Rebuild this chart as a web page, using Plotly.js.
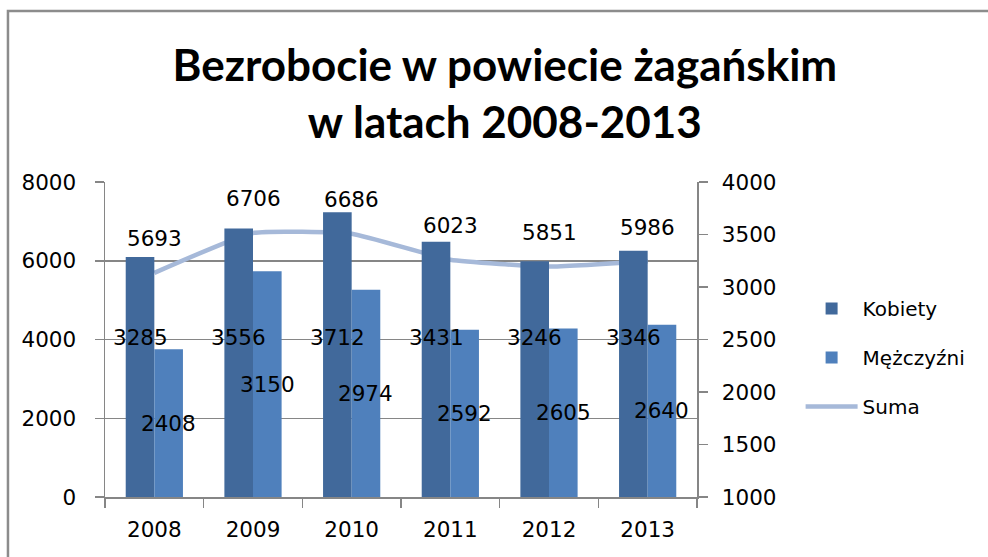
<!DOCTYPE html>
<html>
<head>
<meta charset="utf-8">
<script src="https://cdn.plot.ly/plotly-3.0.1.min.js"></script>
<style>html,body{margin:0;padding:0;background:#fff;}#chart{width:988px;height:557px;}</style>
</head>
<body>
<div id="chart"></div>
<script>
const years = ['2008', '2009', '2010', '2011', '2012', '2013'];
const kobiety = [3285, 3556, 3712, 3431, 3246, 3346];
const mezczyzni = [2408, 3150, 2974, 2592, 2605, 2640];
const suma = [5693, 6706, 6686, 6023, 5851, 5986];
const leftTicks = [0, 2000, 4000, 6000, 8000];
const rightTicks = [1000, 1500, 2000, 2500, 3000, 3500, 4000];

const numFont = {family: 'DejaVu Sans, Verdana, sans-serif', size: 21.5, color: '#000'};
const axisGray = '#868686';

const traces = [
  {type: 'bar', name: 'Kobiety', x: years, y: kobiety, yaxis: 'y2',
   marker: {color: '#41699B'}, legendgroup: 'a'},
  {type: 'bar', name: 'Mężczyźni', x: years, y: mezczyzni, yaxis: 'y2',
   marker: {color: '#4F80BC'}, legendgroup: 'b'},
  {type: 'scatter', mode: 'lines', name: 'Suma', x: years, y: suma, yaxis: 'y',
   line: {color: '#A6B9D9', width: 4.5, shape: 'spline', smoothing: 0.4}, legendgroup: 'c'}
];

const barHalf = 14.3;
const annotations = [];
years.forEach((yr, i) => {
  // category index i positions the label on the category axis
  annotations.push({x: i, y: suma[i], xref: 'x', yref: 'y', text: String(suma[i]),
    showarrow: false, yshift: 34, font: numFont});
  annotations.push({x: i, y: (1000 + mezczyzni[i]) / 2, xref: 'x', yref: 'y2', text: String(mezczyzni[i]),
    showarrow: false, xshift: barHalf, font: numFont});
  annotations.push({x: i, y: 4060, xref: 'x', yref: 'y', text: String(kobiety[i]),
    showarrow: false, xshift: -barHalf, font: numFont});
});

const layout = {
  width: 988, height: 557,
  margin: {l: 105, r: 291, t: 182, b: 60, pad: 0},
  paper_bgcolor: '#fff', plot_bgcolor: '#fff',
  title: {
    text: 'Bezrobocie w powiecie żagańskim<br>w latach 2008-2013',
    font: {family: 'Lato, Roboto, sans-serif', size: 44, color: '#000', weight: 'bold'},
    xref: 'container', yref: 'container', x: 0.511, xanchor: 'center', y: 0.855, yanchor: 'top'
  },
  barmode: 'group', bargap: 0.42, bargroupgap: 0,
  showlegend: true,
  legend: {x: 1.175, xanchor: 'left', y: 0.66, yanchor: 'top', font: {family: 'DejaVu Sans, sans-serif', size: 20, color: '#000'},
    traceorder: 'grouped', tracegroupgap: 20, itemwidth: 52, bgcolor: 'rgba(0,0,0,0)'},
  xaxis: {type: 'category', categoryorder: 'array', categoryarray: years, range: [-0.5, years.length - 0.5],
    showline: true, linecolor: axisGray, linewidth: 1.5, ticks: 'outside', ticklen: 9, tickcolor: axisGray, tickwidth: 1.5,
    tickson: 'boundaries', tickfont: numFont, ticklabelstandoff: 13, showgrid: false, zeroline: false},
  yaxis: {range: [0, 8000], tickvals: leftTicks, ticktext: leftTicks.map(String),
    showgrid: true, gridcolor: axisGray, gridwidth: 1.5, showline: true, linecolor: axisGray, linewidth: 1.5,
    ticks: 'outside', ticklen: 9, tickcolor: axisGray, tickwidth: 1.5, tickfont: numFont, ticklabelstandoff: 14, zeroline: false},
  yaxis2: {range: [1000, 4000], overlaying: 'y', side: 'right', tickvals: rightTicks, ticktext: rightTicks.map(String),
    showgrid: false, showline: true, linecolor: axisGray, linewidth: 1.5,
    ticks: 'outside', ticklen: 9, tickcolor: axisGray, tickwidth: 1.5, tickfont: numFont, ticklabelstandoff: 10, zeroline: false},
  annotations: annotations,
  shapes: [{type: 'rect', xref: 'paper', yref: 'paper', x0: -0.1639, x1: 1.52, y0: -0.25, y1: 1.5429,
    line: {color: '#8C8C8C', width: 2.5}, fillcolor: 'rgba(0,0,0,0)', layer: 'below'}]
};

Plotly.newPlot('chart', traces, layout, {displayModeBar: false, staticPlot: true});
</script>
</body>
</html>
